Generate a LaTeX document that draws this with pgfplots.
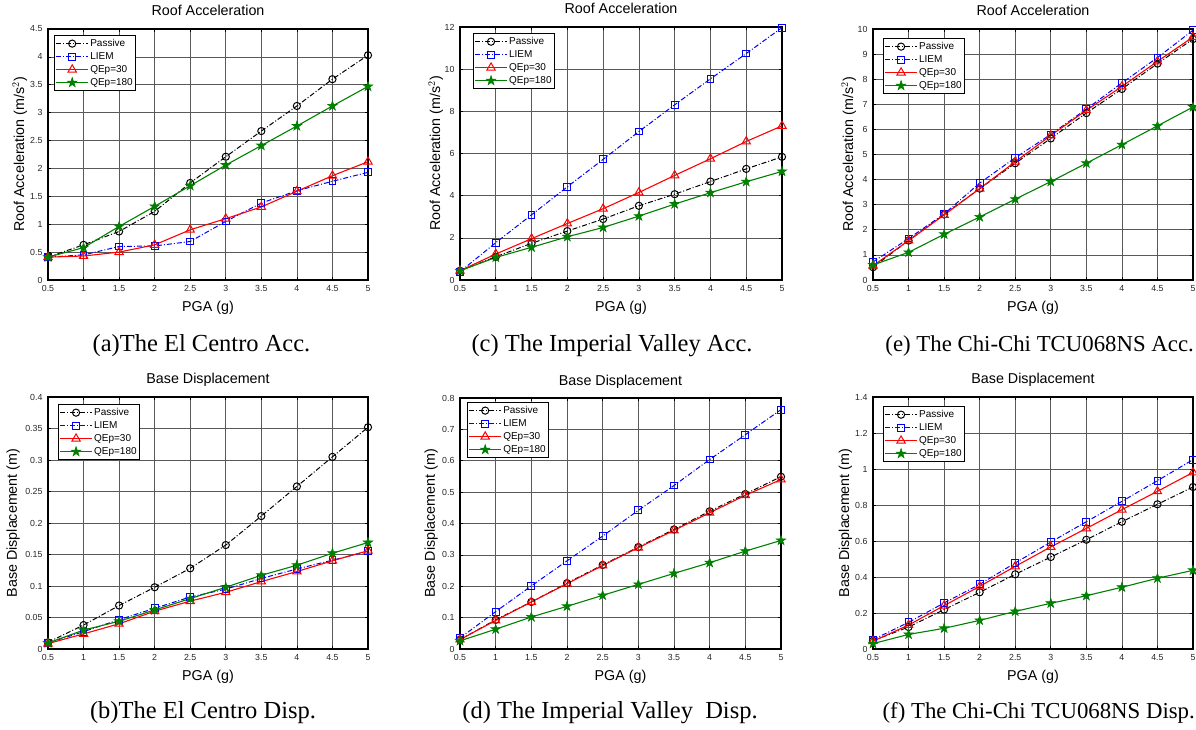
\documentclass[border=0pt]{standalone}
\usepackage{fontspec}
\setmainfont{Liberation Sans}
\newfontfamily\capfont{Liberation Serif}
\usepackage{pgfplots}
\usepackage{pgfplotstable}
\pgfplotsset{compat=1.18}
\definecolor{mgreen}{rgb}{0,0.5,0}

\pgfdeclareplotmark{pentagram}{%
  \pgfpathmoveto{\pgfqpointpolar{90}{\pgfplotmarksize}}%
  \pgfpathlineto{\pgfqpointpolar{234}{\pgfplotmarksize}}%
  \pgfpathlineto{\pgfqpointpolar{18}{\pgfplotmarksize}}%
  \pgfpathlineto{\pgfqpointpolar{162}{\pgfplotmarksize}}%
  \pgfpathlineto{\pgfqpointpolar{306}{\pgfplotmarksize}}%
  \pgfpathclose
  \pgfusepathqfillstroke
}

% columns: PGA, Passive, LIEM, QEp=30, QEp=180
\pgfplotstableread{
x   p     l     q     g
0.5 0.41 0.41 0.41 0.41
1   0.63 0.45 0.43 0.58
1.5 0.87 0.60 0.50 0.96
2   1.23 0.61 0.63 1.32
2.5 1.74 0.69 0.90 1.69
3   2.21 1.05 1.10 2.06
3.5 2.67 1.38 1.31 2.41
4   3.12 1.60 1.59 2.76
4.5 3.60 1.77 1.87 3.12
5   4.03 1.93 2.12 3.47
}\tA
\pgfplotstableread{
x   p     l     q     g
0.5 0.44 0.39 0.44 0.44
1   1.10 1.77 1.23 1.07
1.5 1.74 3.09 1.96 1.55
2   2.32 4.42 2.68 2.05
2.5 2.89 5.72 3.38 2.49
3   3.52 7.04 4.15 3.03
3.5 4.07 8.31 4.96 3.60
4   4.67 9.54 5.75 4.14
4.5 5.27 10.74 6.57 4.66
5   5.84 11.97 7.31 5.15
}\tC
\pgfplotstableread{
x   p     l     q     g
0.5 0.51 0.72 0.57 0.60
1   1.57 1.65 1.57 1.10
1.5 2.61 2.63 2.59 1.82
2   3.64 3.86 3.64 2.51
2.5 4.65 4.87 4.71 3.22
3   5.64 5.80 5.76 3.92
3.5 6.65 6.81 6.76 4.65
4   7.61 7.85 7.71 5.39
4.5 8.62 8.86 8.71 6.14
5   9.60 9.95 9.68 6.89
}\tE
\pgfplotstableread{
x   p      l      q      g
0.5 0.0106 0.0095 0.0085 0.0095
1   0.038  0.0275 0.024  0.030
1.5 0.069  0.0466 0.040  0.044
2   0.098  0.0646 0.060  0.062
2.5 0.128  0.0825 0.076  0.080
3   0.165  0.095  0.090  0.098
3.5 0.211  0.112  0.107  0.117
4   0.258  0.127  0.123  0.133
4.5 0.305  0.141  0.140  0.152
5   0.352  0.155  0.156  0.169
}\tB
\pgfplotstableread{
x   p     l     q     g
0.5 0.030 0.035 0.030 0.026
1   0.093 0.119 0.091 0.063
1.5 0.150 0.201 0.150 0.102
2   0.210 0.281 0.208 0.136
2.5 0.268 0.360 0.266 0.171
3   0.325 0.442 0.323 0.206
3.5 0.381 0.521 0.378 0.241
4   0.439 0.604 0.434 0.275
4.5 0.494 0.683 0.490 0.312
5   0.549 0.763 0.540 0.346
}\tD
\pgfplotstableread{
x   p     l     q     g
0.5 0.046 0.052 0.043 0.030
1   0.122 0.148 0.133 0.081
1.5 0.219 0.256 0.241 0.115
2   0.315 0.359 0.348 0.159
2.5 0.415 0.478 0.459 0.209
3   0.511 0.594 0.567 0.254
3.5 0.607 0.707 0.670 0.296
4   0.707 0.820 0.774 0.343
4.5 0.804 0.935 0.876 0.393
5   0.900 1.052 0.981 0.437
}\tF

\pgfplotsset{
  base/.style={
    scale only axis, anchor=south west, clip=false,
    xmin=0.5, xmax=5, xtick={0.5,1,1.5,2,2.5,3,3.5,4,4.5,5},
    grid=major, major grid style={line width=0.6pt, draw=black!65},
    tick align=inside, major tick length=3pt,
    every tick/.style={black, line width=0.6pt},
    axis line style={line width=1.1pt},
    tick label style={font=\fontsize{8.8}{9}\selectfont, black!85},
    /pgf/number format/assume math mode=true,
    /pgf/number format/fixed,
    xticklabel shift=2pt, yticklabel shift=2pt,
    title style={at={(axis description cs:0.5,1)}, anchor=base, yshift=7pt, font=\fontsize{14.3}{15}\selectfont},
    xlabel style={at={(axis description cs:0.5,0)}, anchor=base, yshift=-32pt, font=\fontsize{14.3}{15}\selectfont},
    xlabel={PGA (g)},
    legend cell align=left,
    legend style={font=\fontsize{10}{11}\selectfont, draw=black, line width=1.2pt, inner xsep=1pt, inner ysep=1.5pt,
      nodes={inner sep=1.5pt, text height=7.5pt, text depth=2.5pt}, row sep=0pt},
    legend image code/.code={\draw[mark repeat=2,mark phase=2,#1] plot coordinates {(0pt,0pt)(16pt,0pt)(32pt,0pt)};},
  },
  ylab/.style={ylabel style={at={(axis description cs:#1,0.5)}, anchor=base, font=\fontsize{14.3}{15}\selectfont}},
  leg/.style n args={2}{legend style={at={(axis description cs:#1,#2)}, anchor=north west}},
  passive/.style={black, line width=1pt, dash pattern=on 5pt off 2pt on 1pt off 2pt, mark=o, mark size=3.6pt, mark options={solid, line width=1pt}},
  liem/.style={blue, line width=1pt, dash pattern=on 5pt off 2pt on 1pt off 2pt, mark=square, mark size=3.4pt, mark options={solid, line width=1pt}},
  qea/.style={red, solid, line width=1.1pt, mark=triangle, mark size=4.8pt, mark options={line width=1pt}},
  qeb/.style={mgreen, solid, line width=1.1pt, mark=pentagram, mark size=5pt, mark options={line width=0.6pt, fill=mgreen}},
}

\newcommand{\fourplots}[1]{%
  \addplot[passive] table[x=x,y=p] {#1};
  \addplot[liem] table[x=x,y=l] {#1};
  \addplot[qea] table[x=x,y=q] {#1};
  \addplot[qeb] table[x=x,y=g] {#1};
  \legend{Passive,LIEM,QEp=30,QEp=180}%
}

\begin{document}
\begin{tikzpicture}
\useasboundingbox (0,0) rectangle (1196pt,730pt);

% (a)
\begin{axis}[base, at={(48pt,450pt)}, width=320pt, height=251pt,
  ymin=0, ymax=4.5, ytick={0,0.5,1,1.5,2,2.5,3,3.5,4,4.5},
  title={Roof Acceleration}, ylabel={Roof Acceleration (m/s$^2$)}, ylab=-0.075, leg={0.019}{0.976}]
\fourplots{\tA}
\end{axis}

% (c)
\begin{axis}[base, at={(460pt,450pt)}, width=322pt, height=253pt,
  ymin=0, ymax=12, ytick={0,2,4,6,8,10,12},
  title={Roof Acceleration}, ylabel={Roof Acceleration (m/s$^2$)}, ylab=-0.062, leg={0.040}{0.976}]
\fourplots{\tC}
\end{axis}

% (e)
\begin{axis}[base, at={(873pt,450pt)}, width=320pt, height=251pt,
  ymin=0, ymax=10, ytick={0,1,2,3,4,5,6,7,8,9,10},
  title={Roof Acceleration}, ylabel={Roof Acceleration (m/s$^2$)}, ylab=-0.062, leg={0.031}{0.964}]
\fourplots{\tE}
\end{axis}

% (b)
\begin{axis}[base, at={(48pt,81pt)}, width=320pt, height=252pt,
  ymin=0, ymax=0.4, ytick={0,0.05,0.1,0.15,0.2,0.25,0.3,0.35,0.4},
  title={Base Displacement}, ylabel={Base Displacement (m)}, ylab=-0.097, leg={0.031}{0.972}]
\fourplots{\tB}
\end{axis}

% (d)
\begin{axis}[base, at={(460pt,81pt)}, width=321pt, height=251pt,
  ymin=0, ymax=0.8, ytick={0,0.1,0.2,0.3,0.4,0.5,0.6,0.7,0.8},
  title={Base Displacement}, ylabel={Base Displacement (m)}, ylab=-0.078, leg={0.022}{0.984}]
\fourplots{\tD}
\end{axis}

% (f)
\begin{axis}[base, at={(873pt,81pt)}, width=320pt, height=252pt,
  ymin=0, ymax=1.4, ytick={0,0.2,0.4,0.6,0.8,1,1.2,1.4},
  title={Base Displacement}, ylabel={Base Displacement (m)}, ylab=-0.075, leg={0.031}{0.964}]
\fourplots{\tF}
\end{axis}

\begin{scope}[every node/.style={anchor=base, font=\capfont\fontsize{24.5}{27}\selectfont, inner sep=0pt}]
\node at (201.5pt,378pt) {(a)The El Centro Acc.};
\node at (612pt,378pt) {(c) The Imperial Valley Acc.};
\node at (203pt,11pt) {(b)The El Centro Disp.};
\node at (610pt,11pt) {(d) The Imperial Valley~ Disp.};
\end{scope}
\begin{scope}[every node/.style={anchor=base east, font=\capfont\fontsize{22.8}{25}\selectfont, inner sep=0pt}]
\node at (1194pt,378pt) {(e) The Chi-Chi TCU068NS Acc.};
\node at (1195pt,11pt) {(f) The Chi-Chi TCU068NS Disp.};
\end{scope}
\end{tikzpicture}
\end{document}
